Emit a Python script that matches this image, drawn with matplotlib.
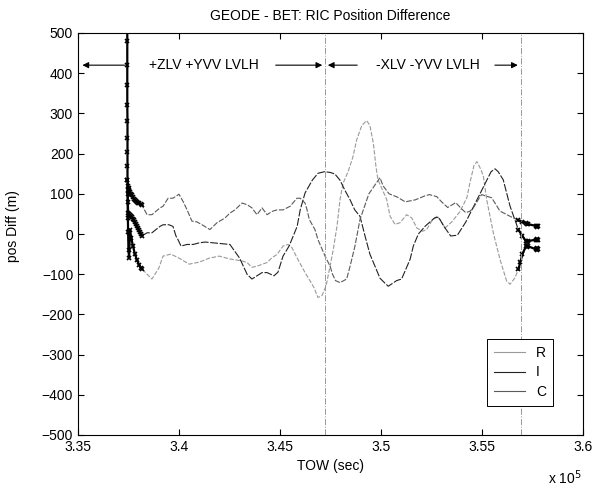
import numpy as np
import matplotlib
matplotlib.use("Agg")
import matplotlib.pyplot as plt

plt.rcParams['font.family'] = ['Liberation Sans', 'DejaVu Sans']

# TOW in units of 1e5 sec, position difference in metres
r_x = [3.3744, 3.3744, 3.3744, 3.3744, 3.3744, 3.3744, 3.3744, 3.3745, 3.3745, 3.3745, 3.3745,
       3.3745, 3.3746, 3.3746, 3.3747, 3.3748, 3.3750, 3.3753, 3.3757, 3.3764, 3.3772, 3.3782,
       3.3792, 3.3802, 3.3810, 3.3815,
       3.3842, 3.3866, 3.3900, 3.3921, 3.3960, 3.4000, 3.4050, 3.4100, 3.4150, 3.4200, 3.4250,
       3.4312, 3.4337, 3.4361, 3.4386, 3.4436, 3.4460, 3.4485, 3.4515, 3.4540, 3.4559, 3.4584,
       3.4624, 3.4648, 3.4668, 3.4688, 3.4708, 3.4728, 3.4748, 3.4764, 3.4782, 3.4797, 3.4812,
       3.4837, 3.4860, 3.4880, 3.4905, 3.4929, 3.4945, 3.4962, 3.4975, 3.4985, 3.5028, 3.5045,
       3.5069, 3.5094, 3.5127, 3.5152, 3.5177, 3.5206, 3.5226, 3.5251, 3.5276, 3.5295, 3.5317,
       3.5350, 3.5390, 3.5425, 3.5440, 3.5460, 3.5475, 3.5495, 3.5507, 3.5523, 3.5556, 3.5589,
       3.5622, 3.5639, 3.5663,
       3.5680, 3.5690, 3.5700, 3.5718, 3.5722, 3.5726, 3.5766, 3.5770, 3.5773, 3.5776]
r_y = [950, 700, 560, 480, 420, 370, 320, 280, 240, 205, 170,
       135, 110, 80, 40, 5, -40, -60, 11, -10, -30, -50,
       -65, -76, -84, -86,
       -100, -112, -85, -55, -50, -60, -75, -70, -60, -55, -62,
       -67, -71, -83, -80, -71, -59, -51, -30, -26, -34, -59,
       -96, -116, -133, -158, -153, -129, -80, -38, 19, 85, 126,
       155, 190, 235, 270, 282, 270, 226, 168, 135, 86, 44,
       24, 28, 48, 40, 15, 7, 11, 32, 44, 34, 15,
       30, 55, 90, 127, 170, 180, 160, 143, 86, 3, -63,
       -117, -125, -109,
       -88, -70, -50, -30, -32, -30, -38, -36, -40, -38]

i_x = [3.3746, 3.3748, 3.3751, 3.3755, 3.3760, 3.3765, 3.3770, 3.3775, 3.3780, 3.3785, 3.3790,
       3.3795, 3.3800, 3.3805, 3.3810, 3.3815,
       3.3842, 3.3866, 3.3906, 3.3921, 3.3950, 3.3970, 3.3985, 3.3995, 3.4010, 3.4040, 3.4070,
       3.4100, 3.4130, 3.4170, 3.4210, 3.4252, 3.4300, 3.4337, 3.4361, 3.4386, 3.4411, 3.4436,
       3.4470, 3.4490, 3.4515, 3.4545, 3.4585, 3.4600, 3.4624, 3.4660, 3.4688, 3.4720, 3.4750,
       3.4772, 3.4797, 3.4820, 3.4847, 3.4870, 3.4896, 3.4921, 3.4945, 3.4970, 3.4995, 3.5017,
       3.5036, 3.5077, 3.5102, 3.5144, 3.5160, 3.5185, 3.5220, 3.5265, 3.5285, 3.5310, 3.5345,
       3.5378, 3.5420, 3.5460, 3.5490, 3.5515, 3.5545, 3.5565, 3.5580, 3.5605, 3.5622, 3.5639,
       3.5680, 3.5700, 3.5718, 3.5722, 3.5726, 3.5766, 3.5770, 3.5773, 3.5776]
i_y = [100, 53, 50, 48, 45, 42, 38, 35, 30, 25, 20,
       15, 10, 5, 0, -5,
       3, 3, 19, 23, 23, 19, -5, -14, -30, -26, -26,
       -22, -20, -22, -24, -26, -60, -100, -112, -104, -96, -96,
       -104, -95, -55, -30, 19, 60, 102, 134, 151, 155, 153,
       149, 134, 110, 85, 60, 44, -5, -50, -80, -110, -121,
       -130, -116, -112, -63, -30, 0, 20, 40, 42, 20, -5,
       -3, 30, 70, 100, 125, 155, 162, 155, 135, 102, 69,
       11, -5, -18, -20, -18, -14, -13, -15, -14]

c_x = [3.3745, 3.3747, 3.3750, 3.3752, 3.3756, 3.3760, 3.3765, 3.3770, 3.3775, 3.3780, 3.3786,
       3.3792, 3.3798, 3.3804, 3.3810, 3.3815,
       3.3842, 3.3866, 3.3906, 3.3921, 3.3946, 3.3970, 3.4000, 3.4020, 3.4040, 3.4064, 3.4089,
       3.4114, 3.4153, 3.4188, 3.4228, 3.4252, 3.4277, 3.4312, 3.4337, 3.4361, 3.4386, 3.4411,
       3.4436, 3.4460, 3.4485, 3.4515, 3.4550, 3.4584, 3.4600, 3.4624, 3.4634, 3.4645, 3.4673,
       3.4688, 3.4723, 3.4748, 3.4760, 3.4775, 3.4797, 3.4830, 3.4847, 3.4871, 3.4896, 3.4940,
       3.4995, 3.5010, 3.5040, 3.5080, 3.5120, 3.5170, 3.5218, 3.5240, 3.5276, 3.5300, 3.5330,
       3.5370, 3.5400, 3.5420, 3.5441, 3.5457, 3.5482, 3.5498, 3.5523, 3.5548, 3.5589, 3.5639,
       3.5680, 3.5700, 3.5718, 3.5722, 3.5726, 3.5766, 3.5770, 3.5773, 3.5776]
c_y = [135, 120, 115, 110, 105, 100, 96, 92, 88, 85, 82,
       80, 78, 76, 74, 73,
       48, 48, 65, 69, 89, 89, 99, 81, 60, 32, 30,
       23, 11, 28, 40, 52, 60, 77, 73, 65, 48, 65,
       48, 56, 60, 60, 69, 89, 89, 77, 60, 36, 11,
       -14, -55, -80, -100, -116, -121, -112, -80, -30, 36, 100,
       140, 120, 100, 92, 80, 85, 95, 98, 93, 80, 66,
       78, 62, 53, 57, 65, 86, 98, 94, 90, 57, 44,
       34, 30, 27, 26, 25, 20, 19, 18, 19]

series_names = ['R', 'I', 'C']
series_colors = ['#9a9a9a', '#222222', '#5a5a5a']
series_dashes = [(4, 1.5), (7, 1.5), (5, 1.5)]

# attitude phase boundaries (1e5 sec) and labels
phase_edges = [3.3744, 3.4723, 3.5691]
phase_labels = ['+ZLV +YVV LVLH', '-XLV -YVV LVLH']

fig = plt.figure(figsize=(5.94, 4.90), dpi=100)
ax = fig.add_axes([78 / 594, 55 / 490, 505 / 594, 402 / 490])

for xs, ys, name, col, dsh in zip([r_x, i_x, c_x], [r_y, i_y, c_y], series_names,
                                  series_colors, series_dashes):
    xs = np.array(xs)
    ys = np.array(ys)
    line, = ax.plot(xs, ys, color=col, lw=0.8, label=name)
    line.set_dashes(dsh)
    # densely sampled start and end stretches drawn with markers
    for part in [xs < 3.3825, xs > 3.5675]:
        ax.plot(xs[part], ys[part], color='black', lw=1.6, marker='x', ms=3.5, mew=1.2)

# phase boundary lines
for xe in phase_edges[1:]:
    ax.axvline(xe, color='0.6', lw=0.7, ls='-.')

ya = 420
arrow = dict(arrowstyle='-|>', color='black', lw=0.8, mutation_scale=9)
ax.annotate('', xy=(3.3508, ya), xytext=(phase_edges[0], ya), arrowprops=arrow)
ax.text(3.4124, ya, phase_labels[0], ha='center', va='center', fontsize=10)
ax.annotate('', xy=(phase_edges[1], ya), xytext=(3.4465, ya), arrowprops=arrow)
ax.annotate('', xy=(phase_edges[1], ya), xytext=(3.4896, ya), arrowprops=arrow)
ax.text(3.5233, ya, phase_labels[1], ha='center', va='center', fontsize=10)
ax.annotate('', xy=(phase_edges[2], ya), xytext=(3.5550, ya), arrowprops=arrow)

ax.set_xlim(3.35, 3.6)
ax.set_ylim(-500, 500)
ax.set_xticks([3.35, 3.4, 3.45, 3.5, 3.55, 3.6])
ax.set_xticklabels(['3.35', '3.4', '3.45', '3.5', '3.55', '3.6'])
ax.set_yticks(np.arange(-500, 501, 100))
ax.tick_params(direction='in', top=True, right=True, length=4, labelsize=10)
for sp in ax.spines.values():
    sp.set_linewidth(0.8)

ax.set_title('GEODE - BET: RIC Position Difference', fontsize=10, pad=9)
ax.set_xlabel('TOW (sec)', fontsize=10, labelpad=4)
ax.set_ylabel('pos Diff (m)', fontsize=10)
ax.yaxis.set_label_coords(-0.115, 0.52)
ax.text(0.965, -0.105, 'x 10$^5$', transform=ax.transAxes, ha='center', va='center',
        fontsize=10)

leg = ax.legend(loc='lower right', bbox_to_anchor=(0.954, 0.055), fancybox=False,
                edgecolor='black', fontsize=10, handlelength=2.2, borderpad=0.5,
                labelspacing=0.4, framealpha=1)
leg.get_frame().set_linewidth(0.7)
for h in leg.get_lines():
    h.set_linestyle('-')

fig.savefig('out.png', dpi=100)
